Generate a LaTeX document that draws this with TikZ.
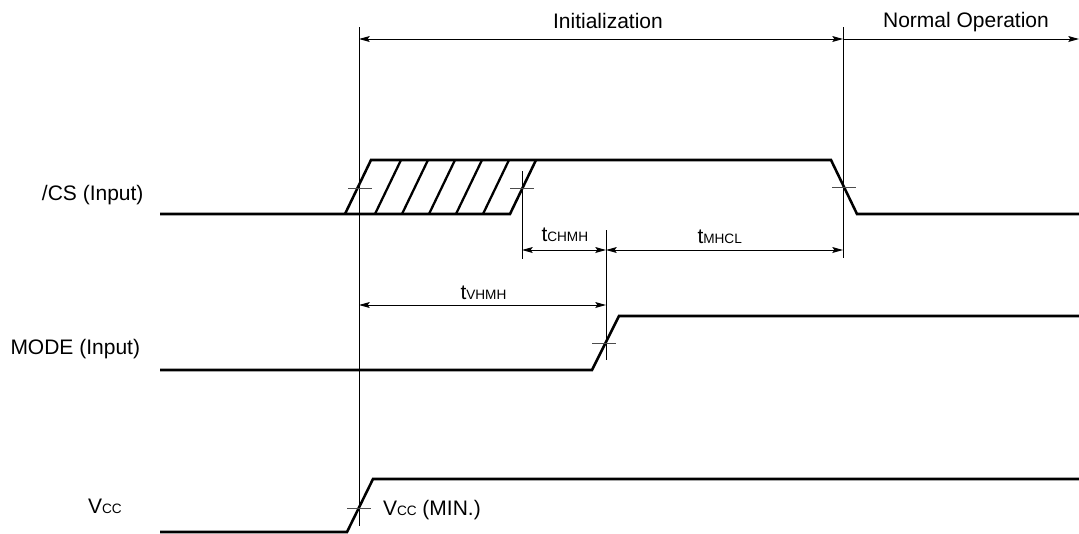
\documentclass[tikz,border=0pt]{standalone}
\usepackage{fontspec}
\setmainfont{Liberation Sans}
\usetikzlibrary{arrows.meta}
\newcommand{\lbl}{\fontsize{15.75pt}{18pt}\selectfont}
\newcommand{\sm}[1]{{\fontsize{10.2pt}{12pt}\selectfont #1}}
\tikzset{
  signal/.style={line width=1.9pt,line join=miter,black},
  hatchline/.style={line width=1.7pt,black},
  guide/.style={line width=0.75pt,black},
  tick/.style={line width=0.7pt,black!70},
  dim/.style={line width=0.75pt,black,{Stealth[length=8pt,width=4.4pt,inset=1.5pt]}-{Stealth[length=8pt,width=4.4pt,inset=1.5pt]}},
  dimr/.style={line width=0.75pt,black,-{Stealth[length=8pt,width=4.4pt,inset=1.5pt]}},
  txt/.style={inner sep=0pt,outer sep=0pt,anchor=base,font=\lbl,text=black}
}
\begin{document}
\begin{tikzpicture}[x=0.75pt,y=-0.75pt]
\useasboundingbox (0,0) rectangle (1079,533);
% guides
\coordinate (g1t) at (359,27); \coordinate (g1b) at (359,526);
\coordinate (g2t) at (843,27); \coordinate (g2b) at (843,258);
\coordinate (g3t) at (522,171); \coordinate (g3b) at (522,259);
\coordinate (g4t) at (606,230); \coordinate (g4b) at (606,360);
\coordinate (eR) at (1079,39);
\draw[guide] (g1t) -- (g1b);
\draw[guide] (g2t) -- (g2b);
\draw[guide] (g3t) -- (g3b);
\draw[guide] (g4t) -- (g4b);
% dimension arrows
\draw[dim] (g1t |- eR) -- (g2t |- eR);
\draw[dimr] (g2t |- eR) -- (eR);
\coordinate (d1) at (0,250); \coordinate (d2) at (0,305);
\draw[dim] (g3t |- d1) -- (g4t |- d1);
\draw[dim] (g4t |- d1) -- (g2t |- d1);
\draw[dim] (g1t |- d2) -- (g4t |- d2);
% signals
\draw[hatchline] (375,214) -- (401,160);
\draw[hatchline] (402,214) -- (428,160);
\draw[hatchline] (429,214) -- (455,160);
\draw[hatchline] (456,214) -- (482,160);
\draw[hatchline] (483,214) -- (509,160);
\draw[signal] (160,214) -- (510,214) -- (536,160);
\draw[signal] (345,214) -- (371,160) -- (831,160) -- (857,214) -- (1079,214);
\draw[signal] (160,370) -- (592,370) -- (619,316) -- (1079,316);
\draw[signal] (160,532) -- (347,532) -- (373,479) -- (1079,479);
% ticks
\draw[tick] (348,188) -- (372,188);
\draw[tick] (510,188) -- (534,188);
\draw[tick] (832,187) -- (856,187);
\draw[tick] (592,343) -- (616,343);
\draw[tick] (347,508) -- (371,508);
% labels
\node[txt] (init) at (608,28) {Initialization};
\node[txt] (norm) at (966,27) {Normal Operation};
\node[txt,anchor=base east] (cs) at (143.5,200) {/CS (Input)};
\node[txt,anchor=base west] (mode) at (10.5,354) {MODE (Input)};
\node[txt,anchor=base west] (vcc) at (88,513) {V\sm{CC}};
\node[txt,anchor=base west] (vccmin) at (383,515) {V\sm{CC} (MIN.)};
\node[txt,anchor=base west] (tc) at (541.5,241) {t\sm{CHMH}};
\node[txt,anchor=base west] (tm) at (697.5,243) {t\sm{MHCL}};
\node[txt,anchor=base west] (tv) at (460.5,299) {t\sm{VHMH}};
\end{tikzpicture}
\end{document}
